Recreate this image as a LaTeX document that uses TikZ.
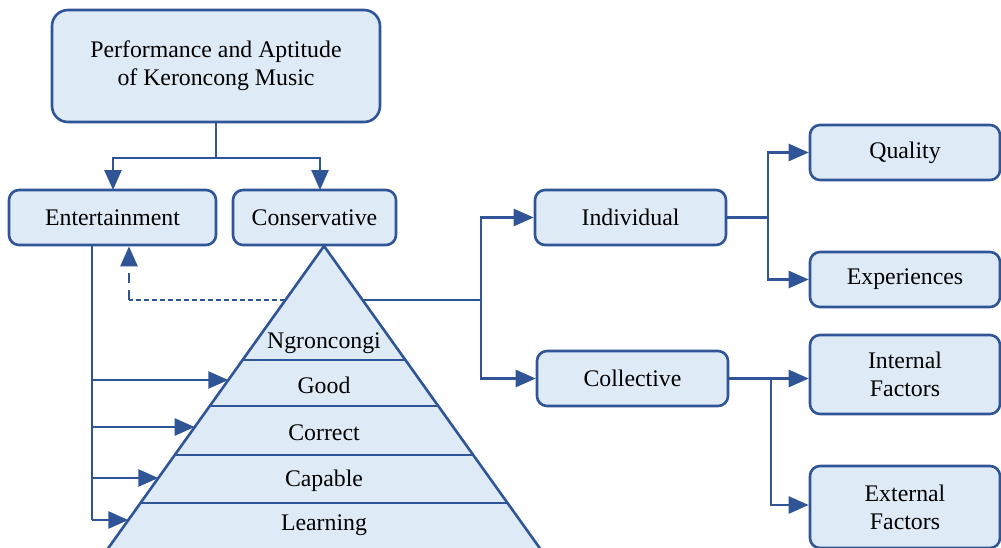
\documentclass[tikz,border=0pt]{standalone}
\usepackage{fontspec}
\setmainfont{Liberation Serif}
\usetikzlibrary{arrows.meta}
\definecolor{bl}{HTML}{2F5597}
\definecolor{fl}{HTML}{DEEAF6}
\begin{document}
\begin{tikzpicture}[x=1pt,y=-1pt,
  box/.style={draw=bl, fill=fl, line width=2.6pt, rounded corners=10pt, align=center,
    font=\rmfamily\fontsize{23.8}{28}\selectfont, inner sep=0pt},
  conn/.style={draw=bl, line width=2.6pt},
  arr/.style={conn, -{Triangle[length=20pt,width=17pt]}},
  lvl/.style={font=\rmfamily\fontsize{23.8}{28}\selectfont, inner sep=0pt}]
\useasboundingbox (0,0) rectangle (1001,547);

% boxes
\node[box, rounded corners=16pt, minimum width=328pt, minimum height=112pt] (top) at (216,66) {Performance and Aptitude\\of Keroncong Music};
\node[box, minimum width=207pt, minimum height=55pt] (ent) at (112.5,217.5) {Entertainment};
\node[box, minimum width=163pt, minimum height=55pt] (con) at (314.5,217.5) {Conservative};
\node[box, minimum width=191pt, minimum height=55pt] (ind) at (630.5,217.5) {Individual};
\node[box, minimum width=191pt, minimum height=55pt] (col) at (632.5,378.5) {Collective};
\node[box, minimum width=190pt, minimum height=55pt] (qua) at (905,152.5) {Quality};
\node[box, minimum width=190pt, minimum height=55pt] (exp) at (905,279.5) {Experiences};
\node[box, minimum width=190pt, minimum height=79pt] (int) at (905,374.5) {Internal\\Factors};
\node[box, minimum width=190pt, minimum height=82pt] (ext) at (905,507) {External\\Factors};

% pyramid
\coordinate (apex) at (324,246);
\coordinate (pbl) at (106.9,550);
\coordinate (pbr) at (541.1,550);
\draw[bl, fill=fl, line width=2.6pt, line join=miter] (apex) -- (pbr) -- (pbl) -- cycle;
\foreach \yy/\hw in {360/81.4, 406/114.3, 455/149.3, 503/183.6}{
  \draw[bl, line width=2.6pt] (324-\hw,\yy) -- (324+\hw,\yy);
}
\node[lvl] (n1) at (324,343) {Ngroncongi};
\node[lvl] (n2) at (324,385) {Good};
\node[lvl] (n3) at (324,433) {Correct};
\node[lvl] (n4) at (324,481) {Capable};
\node[lvl] (n5) at (324,525) {Learning};

% edge points of pyramid
\coordinate (Ld) at (285.4,300);
\coordinate (Rd) at (362.6,300);
\coordinate (L1) at (228.3,380);
\coordinate (L2) at (194.7,427);
\coordinate (L3) at (158.3,478);
\coordinate (L4) at (128.3,520);

% top to level 2
\coordinate (j1) at (216,158);
\draw[conn] (top.south) -- (j1);
\draw[arr] (j1) -| (113,190);
\draw[arr] (j1) -| (320,190);

% entertainment trunk
\coordinate (e0) at (92,245);
\coordinate (t1) at (92,380);
\coordinate (t2) at (92,427);
\coordinate (t3) at (92,478);
\coordinate (t4) at (92,520);
\draw[conn] (e0) -- (t4);
\draw[arr] (t1) -- (L1);
\draw[arr] (t2) -- (L2);
\draw[arr] (t3) -- (L3);
\draw[arr] (t4) -- (L4);

% dashed feedback
\coordinate (dc) at (129,300);
\draw[bl, line width=1.6pt, dash pattern=on 5pt off 3pt] (Ld) -- (dc);
\draw[bl, line width=2.6pt, dash pattern=on 10pt off 7pt] (dc) -- (129,262);
\draw[arr] (129,263) -- (dc |- ent.south);

% right branch
\coordinate (r1) at (481,300);
\draw[conn] (Rd) -- (r1);
\draw[arr] (r1) |- (ind.west);
\draw[arr] (r1) |- (col.west);

% individual
\coordinate (i1) at (768,217.5);
\draw[conn] (ind.east) -- (i1);
\draw[arr] (i1) |- (qua.west);
\draw[arr] (i1) |- (exp.west);

% collective
\coordinate (c1) at (771,378.5);
\draw[arr] (col.east) -- (col.east -| int.west);
\draw[arr] (c1) |- ([yshift=2pt]ext.west);
\end{tikzpicture}
\end{document}
